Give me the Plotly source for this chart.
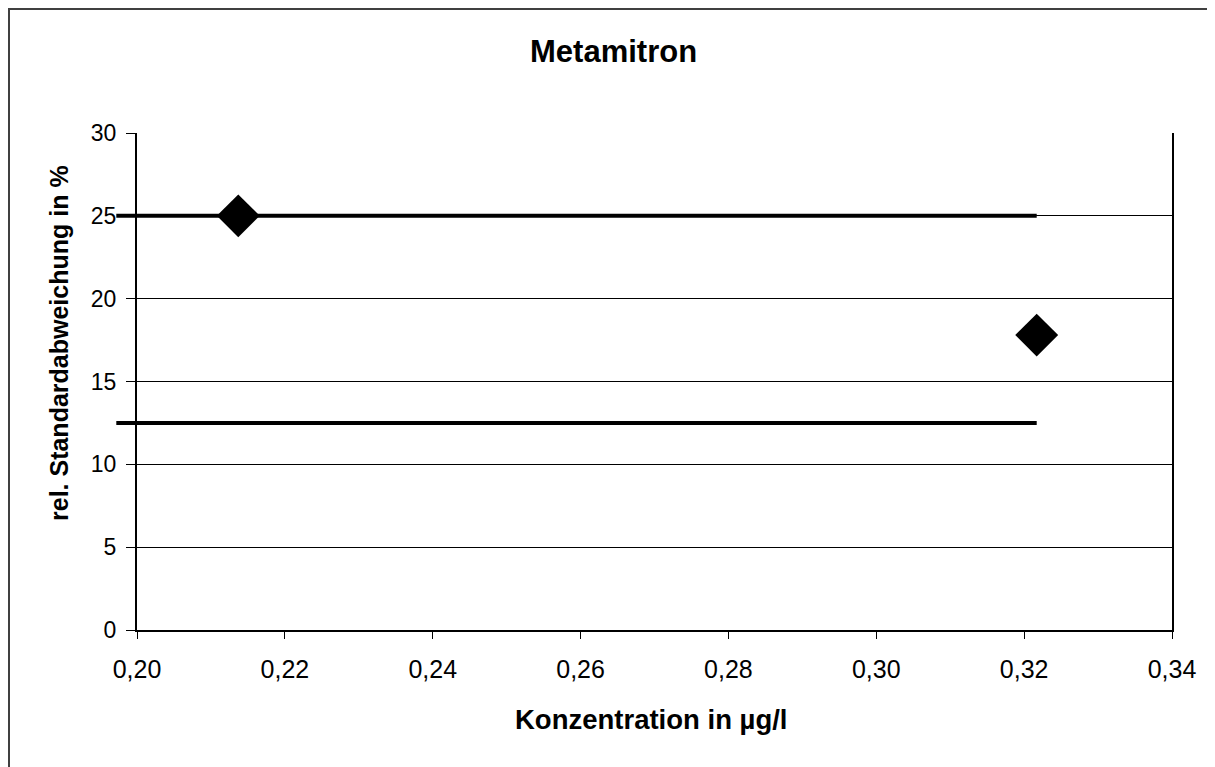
import plotly.graph_objects as go

# Data
conc = [0.2137, 0.3217]
rsd = [25.0, 17.8]
limit_x = [0.1972, 0.3217]
upper_limit = [25.0, 25.0]
lower_limit = [12.5, 12.5]
x_ticks = [0.20, 0.22, 0.24, 0.26, 0.28, 0.30, 0.32, 0.34]
y_ticks = [0, 5, 10, 15, 20, 25, 30]

# page has an 8px body margin; figure coords = reference coords - 8
W, H = 1215, 767
ML, MR, MT, MB = 92, 51, 125, 145
plot_w = W - ML - MR
plot_h = H - MT - MB
offset = 37  # px between extended frame and visible y axis
x_range = [0.20, 0.34]
px_per_unit = (plot_w - offset) / (x_range[1] - x_range[0])
x2_range = [x_range[0] - offset / px_per_unit, x_range[1]]

FONT = "Liberation Sans, Arial, sans-serif"


def px(xf):
    return (xf - ML) / plot_w


def py(yf):
    return (H - MB - yf) / plot_h


fig = go.Figure()

for yy in (upper_limit, lower_limit):
    fig.add_trace(go.Scatter(x=limit_x, y=yy, mode="lines", xaxis="x2", yaxis="y2",
                             line=dict(color="black", width=4), showlegend=False,
                             hoverinfo="skip"))

fig.add_trace(go.Scatter(x=conc, y=rsd, mode="markers", xaxis="x", yaxis="y",
                         marker=dict(symbol="diamond", size=33, color="black"),
                         showlegend=False, cliponaxis=False))

fig.update_layout(
    width=W, height=H,
    margin=dict(l=ML, r=MR, t=MT, b=MB),
    paper_bgcolor="white", plot_bgcolor="rgba(0,0,0,0)",
    separators=",.",
    font=dict(family=FONT, color="black", size=22),
    xaxis=dict(domain=[offset / plot_w, 1], range=x_range, tickvals=x_ticks,
               tickformat=".2f", showgrid=False, showline=True, linecolor="black",
               linewidth=2, ticks="outside", ticklen=7, tickcolor="black",
               tickwidth=1, zeroline=False, ticklabelstandoff=9,
               tickfont=dict(size=25), anchor="y"),
    yaxis=dict(range=[0, 30], tickvals=y_ticks, showgrid=True, gridcolor="black",
               gridwidth=1, showline=True, linecolor="black", linewidth=2,
               mirror=True, ticks="outside", ticklen=9, tickcolor="black",
               tickwidth=1, zeroline=False, ticklabelstandoff=5,
               tickfont=dict(size=23), anchor="x"),
    xaxis2=dict(domain=[0, 1], range=x2_range, visible=False, anchor="y2",
                showgrid=False, zeroline=False),
    yaxis2=dict(domain=[0, 1], range=[0, 30], visible=False, anchor="x2",
                showgrid=False, zeroline=False),
)

fig.add_annotation(text="<b>Metamitron</b>", xref="paper", yref="paper",
                   x=px(605), y=py(44), showarrow=False, font=dict(size=31),
                   xanchor="center", yanchor="middle")
fig.add_annotation(text="<b>Konzentration in µg/l</b>", xref="paper", yref="paper",
                   x=px(643), y=py(711), showarrow=False, font=dict(size=27.5),
                   xanchor="center", yanchor="middle")
fig.add_annotation(text="<b>rel. Standardabweichung in %</b>", xref="paper", yref="paper",
                   x=px(51), y=py(335), textangle=-90, showarrow=False,
                   font=dict(size=25), xanchor="center", yanchor="middle")

# outer chart border
fig.add_shape(type="rect", xref="paper", yref="paper",
              x0=px(1), x1=px(1260), y0=py(800), y1=py(1),
              line=dict(color="#404040", width=2))

fig.write_html("out.html")
